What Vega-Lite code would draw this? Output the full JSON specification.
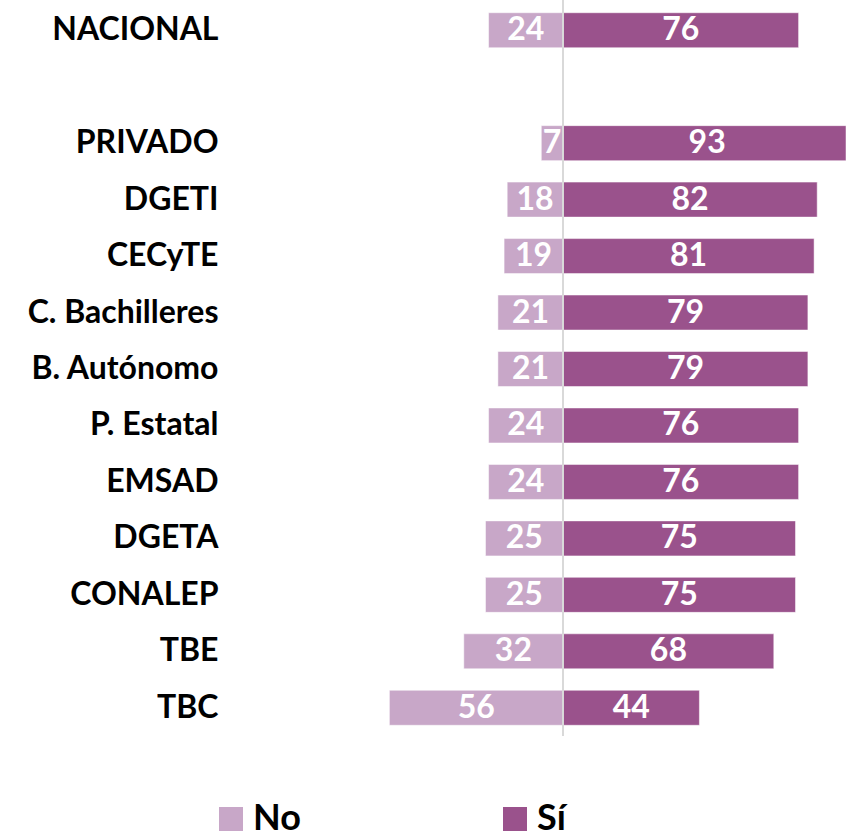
{
  "$schema": "https://vega.github.io/schema/vega-lite/v6.json",
  "autosize": {"type": "none"},
  "width": 618,
  "height": 734,
  "padding": {"left": 228, "top": 2, "right": 0, "bottom": 101},
  "background": "#ffffff",
  "config": {
    "view": {"stroke": null},
    "font": "Lato",
    "legend": {
      "orient": "none",
      "legendX": -15,
      "legendY": 799,
      "direction": "horizontal",
      "padding": 0,
      "symbolType": "square",
      "symbolSize": 576,
      "symbolStrokeWidth": 0,
      "symbolOpacity": 1,
      "labelFont": "Lato",
      "labelFontSize": 36,
      "labelFontWeight": "bold",
      "labelColor": "#000000",
      "labelOffset": 4,
      "columnPadding": 196,
      "labelLimit": 300
    }
  },
  "data": {
    "values": [
      {"cat": "NACIONAL", "resp": "No", "v": -24, "label": 24},
      {"cat": "NACIONAL", "resp": "Sí", "v": 76, "label": 76},
      {"cat": "PRIVADO", "resp": "No", "v": -7, "label": 7},
      {"cat": "PRIVADO", "resp": "Sí", "v": 93, "label": 93},
      {"cat": "DGETI", "resp": "No", "v": -18, "label": 18},
      {"cat": "DGETI", "resp": "Sí", "v": 82, "label": 82},
      {"cat": "CECyTE", "resp": "No", "v": -19, "label": 19},
      {"cat": "CECyTE", "resp": "Sí", "v": 81, "label": 81},
      {"cat": "C. Bachilleres", "resp": "No", "v": -21, "label": 21},
      {"cat": "C. Bachilleres", "resp": "Sí", "v": 79, "label": 79},
      {"cat": "B. Autónomo", "resp": "No", "v": -21, "label": 21},
      {"cat": "B. Autónomo", "resp": "Sí", "v": 79, "label": 79},
      {"cat": "P. Estatal", "resp": "No", "v": -24, "label": 24},
      {"cat": "P. Estatal", "resp": "Sí", "v": 76, "label": 76},
      {"cat": "EMSAD", "resp": "No", "v": -24, "label": 24},
      {"cat": "EMSAD", "resp": "Sí", "v": 76, "label": 76},
      {"cat": "DGETA", "resp": "No", "v": -25, "label": 25},
      {"cat": "DGETA", "resp": "Sí", "v": 75, "label": 75},
      {"cat": "CONALEP", "resp": "No", "v": -25, "label": 25},
      {"cat": "CONALEP", "resp": "Sí", "v": 75, "label": 75},
      {"cat": "TBE", "resp": "No", "v": -32, "label": 32},
      {"cat": "TBE", "resp": "Sí", "v": 68, "label": 68},
      {"cat": "TBC", "resp": "No", "v": -56, "label": 56},
      {"cat": "TBC", "resp": "Sí", "v": 44, "label": 44}
    ]
  },
  "encoding": {
    "y": {
      "field": "cat",
      "type": "nominal",
      "sort": null,
      "scale": {
        "domain": ["NACIONAL", " ", "PRIVADO", "DGETI", "CECyTE", "C. Bachilleres", "B. Autónomo", "P. Estatal", "EMSAD", "DGETA", "CONALEP", "TBE", "TBC"],
        "paddingInner": 0.38,
        "paddingOuter": 0.19
      },
      "axis": {
        "title": null,
        "domain": false,
        "ticks": false,
        "labelPadding": 10,
        "labelFont": "Lato",
        "labelFontSize": 32,
        "labelFontWeight": "bold",
        "labelColor": "#000000",
        "labelLimit": 400
      }
    }
  },
  "layer": [
    {
      "mark": {"type": "bar", "stroke": "#ffffff", "strokeWidth": 0.5},
      "encoding": {
        "x": {
          "field": "v",
          "type": "quantitative",
          "scale": {"domain": [-108.06, 91.29], "nice": false, "zero": false, "clamp": true},
          "axis": null
        },
        "x2": {"datum": 0},
        "color": {
          "field": "resp",
          "type": "nominal",
          "scale": {"domain": ["No", "Sí"], "range": ["#C8A7C8", "#9A528C"]},
          "legend": {"title": null}
        }
      }
    },
    {
      "mark": {"type": "rule", "color": "#D9D9D9", "strokeWidth": 2},
      "encoding": {
        "x": {"datum": 0, "type": "quantitative"},
        "y": {"value": -2},
        "y2": {"value": 734}
      }
    },
    {
      "transform": [{"calculate": "datum.v / 2", "as": "mid"}],
      "mark": {"type": "text", "color": "#ffffff", "font": "Lato", "fontSize": 32, "fontWeight": "bold", "baseline": "middle", "align": "center"},
      "encoding": {
        "x": {"field": "mid", "type": "quantitative"},
        "text": {"field": "label", "type": "quantitative"}
      }
    }
  ]
}
